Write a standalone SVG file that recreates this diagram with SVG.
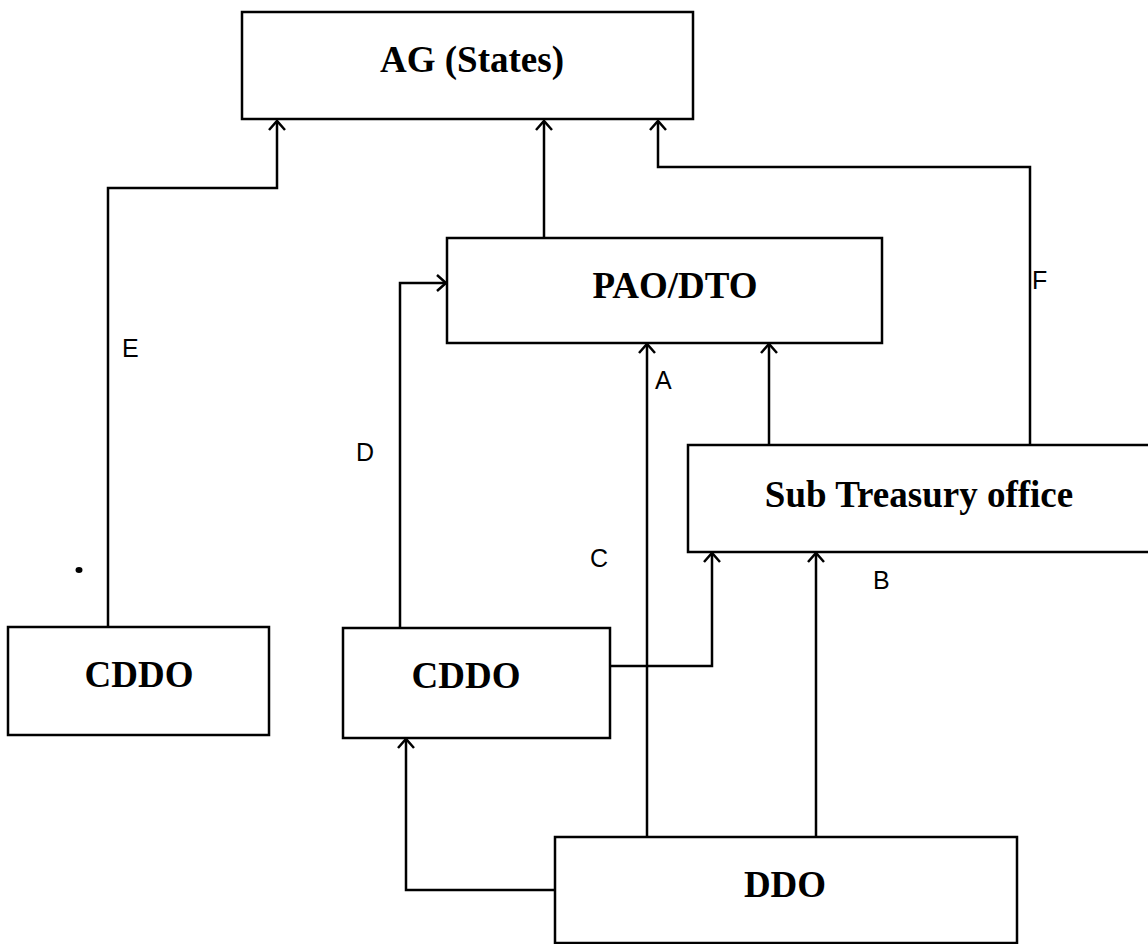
<svg xmlns="http://www.w3.org/2000/svg" width="1148" height="944" viewBox="0 0 1148 944">
<style>
.box{fill:#fff;stroke:#000;stroke-width:2.5}
.t{font-family:"Liberation Serif","Times New Roman",serif;font-weight:bold;font-size:37px;fill:#000;text-anchor:middle}
.c{fill:none;stroke:#000;stroke-width:2.5}
.l{font-family:"Liberation Sans",Arial,sans-serif;font-size:25px;fill:#000}
</style>
<defs>
<marker id="ah" viewBox="0 0 20 20" refX="18" refY="10" markerWidth="20" markerHeight="20" markerUnits="userSpaceOnUse" orient="auto">
<polyline points="9,2 18,10 9,18" fill="none" stroke="#000" stroke-width="2.5"/>
</marker>
</defs>
<rect width="1148" height="944" fill="#fff"/>
<g id="connectors">
<polyline class="c" points="108,627 108,188 277,188 277,121" marker-end="url(#ah)"/>
<polyline class="c" points="544,237 544,121" marker-end="url(#ah)"/>
<polyline class="c" points="1030,445 1030,167 658,167 658,121" marker-end="url(#ah)"/>
<polyline class="c" points="400,628 400,283 446,283" marker-end="url(#ah)"/>
<polyline class="c" points="647,837 647,344" marker-end="url(#ah)"/>
<polyline class="c" points="769,445 769,344" marker-end="url(#ah)"/>
<polyline class="c" points="610,666 712,666 712,553" marker-end="url(#ah)"/>
<polyline class="c" points="816,837 816,553" marker-end="url(#ah)"/>
<polyline class="c" points="555,890 406,890 406,739" marker-end="url(#ah)"/>
</g>
<g id="ag"><rect class="box" x="242" y="12" width="451" height="107"/><text class="t" x="472" y="72">AG (States)</text></g>
<g id="pao"><rect class="box" x="447" y="238" width="435" height="105"/><text class="t" x="675" y="298">PAO/DTO</text></g>
<g id="sto"><rect class="box" x="688" y="445" width="470" height="107"/><text class="t" x="919" y="507">Sub Treasury office</text></g>
<g id="cddo1"><rect class="box" x="8" y="627" width="261" height="108"/><text class="t" x="139" y="687">CDDO</text></g>
<g id="cddo2"><rect class="box" x="343" y="628" width="267" height="110"/><text class="t" x="466" y="688">CDDO</text></g>
<g id="ddo"><rect class="box" x="555" y="837" width="462" height="106"/><text class="t" x="785" y="897">DDO</text></g>
<g id="labels">
<text class="l" x="122" y="357">E</text>
<text class="l" x="356" y="461">D</text>
<text class="l" x="590" y="567">C</text>
<text class="l" x="655" y="389">A</text>
<text class="l" x="873" y="589">B</text>
<text class="l" x="1032" y="289">F</text>
</g>
<ellipse cx="79" cy="570" rx="3.5" ry="3" fill="#000"/>
</svg>
